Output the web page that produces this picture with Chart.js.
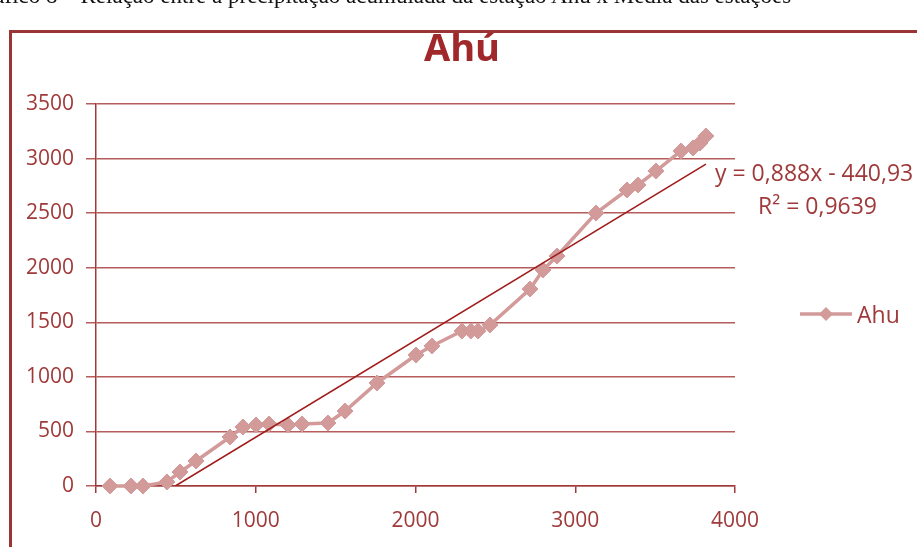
<!DOCTYPE html>
<html>
<head>
<meta charset="utf-8">
<script src="https://cdn.jsdelivr.net/npm/chart.js@4.4.1/dist/chart.umd.min.js"></script>
<style>
  body { margin: 0; background: #fff; overflow: hidden; }
  #wrap { position: relative; width: 917px; height: 547px; }
  #canva { position: absolute; left: 0; top: 0; }
  #legenda { position: absolute; left: -30px; top: -17px; white-space: nowrap;
    font-family: "Liberation Serif", serif; font-size: 23px; color: #111; }
  #moldura { position: absolute; left: 9px; top: 30px; width: 920px; height: 530px;
    border-left: 3px solid #9b3434; border-top: 3px solid #9b3434; pointer-events: none; }
</style>
</head>
<body>
<div id="wrap">
  <canvas id="canva" width="917" height="547"></canvas>
  <div id="legenda">Gráfico 8 – Relação entre a precipitação acumulada da estação Ahú x Média das estações</div>
  <div id="moldura"></div>
</div>
<script>
// precipitacao acumulada (x = media das estacoes, y = Ahu)
var ahu_x = [88, 219, 294, 444, 526, 626, 839, 920, 1002, 1083, 1202, 1290, 1452, 1559, 1759,
  2003, 2103, 2291, 2347, 2391, 2466, 2717, 2798, 2886, 3130, 3324, 3393, 3505, 3662, 3737, 3781, 3818];
var ahu_y = [0, 0, 0, 37, 128, 229, 449, 541, 559, 568, 559, 568, 577, 687, 944,
  1200, 1283, 1420, 1420, 1420, 1475, 1805, 1979, 2107, 2501, 2712, 2758, 2886, 3070, 3097, 3143, 3207];

// linha de tendencia do excel
var inclinacao = 0.888;
var intercepto = -440.93;
var tendencia_x = [-intercepto / inclinacao, 3818];
var y_ticks = [0, 500, 1000, 1500, 2000, 2500, 3000, 3500];
var x_ticks = [0, 1000, 2000, 3000, 4000];

var vermelho = "#a03a3a";
var rosa = "#d39a9a";

var pontos = [];
for (let i = 0; i < ahu_x.length; i++) {
    pontos.push({ x: ahu_x[i], y: ahu_y[i] });
}
var tendencia = [];
for (let i = 0; i < tendencia_x.length; i++) {
    tendencia.push({ x: tendencia_x[i], y: inclinacao * tendencia_x[i] + intercepto });
}

var textos = {
    id: "textos",
    afterDraw(chart) {
        const c = chart.ctx;
        c.save();
        c.fillStyle = "#a0282a";
        c.font = "bold 38px 'Open Sans'";
        c.textAlign = "center";
        c.textBaseline = "alphabetic";
        c.fillText("Ahú", 462, 61);

        c.fillStyle = vermelho;
        c.font = "23px 'Open Sans'";
        c.textAlign = "left";
        c.fillText("y = 0,888x - 440,93", 715, 181);
        c.fillText("R² = 0,9639", 758, 214);

        // legenda da serie
        c.strokeStyle = rosa;
        c.lineWidth = 3.5;
        c.beginPath();
        c.moveTo(800, 314);
        c.lineTo(852, 314);
        c.stroke();
        c.fillStyle = rosa;
        c.beginPath();
        c.moveTo(826, 307);
        c.lineTo(833, 314);
        c.lineTo(826, 321);
        c.lineTo(819, 314);
        c.closePath();
        c.fill();
        c.fillStyle = vermelho;
        c.fillText("Ahu", 857, 323);
        c.restore();
    }
};

const ctx = document.getElementById("canva");
const grafico = new Chart(ctx, {
    type: "scatter",
    data: {
        datasets: [
            {
                label: "Linear (Ahu)",
                data: tendencia,
                showLine: true,
                borderColor: "#a01c1c",
                borderWidth: 1.6,
                pointRadius: 0,
                order: 0
            },
            {
                label: "Ahu",
                data: pontos,
                showLine: true,
                clip: false,
                borderColor: rosa,
                backgroundColor: rosa,
                borderWidth: 3.5,
                pointStyle: "rectRot",
                pointRadius: 8,
                pointBorderWidth: 1,
                order: 1
            }
        ]
    },
    options: {
        responsive: false,
        animation: false,
        devicePixelRatio: 1,
        layout: { padding: { left: 0, top: 104, right: 182, bottom: 0 } },
        plugins: {
            legend: { display: false },
            title: { display: false },
            tooltip: { enabled: false }
        },
        scales: {
            x: {
                type: "linear",
                min: 0,
                max: 4000,
                afterBuildTicks(scale) { scale.ticks = x_ticks.map(v => ({ value: v })); },
                afterFit(scale) { scale.height = 61; },
                border: { color: vermelho, width: 1.5 },
                grid: { drawOnChartArea: false, drawTicks: true, tickLength: 7, color: vermelho, lineWidth: 1.5 },
                ticks: { color: vermelho, padding: 15, font: { family: "Open Sans", size: 21 },
                    callback: v => String(v) }
            },
            y: {
                min: 0,
                max: 3500,
                afterBuildTicks(scale) { scale.ticks = y_ticks.map(v => ({ value: v })); },
                afterFit(scale) { scale.width = 96; },
                border: { color: vermelho, width: 1.5 },
                grid: { color: "#b65c5c", lineWidth: 1.5, tickLength: 10 },
                ticks: { color: vermelho, padding: 12, font: { family: "Open Sans", size: 21 },
                    callback: v => String(v) }
            }
        }
    },
    plugins: [textos]
});
</script>
</body>
</html>
